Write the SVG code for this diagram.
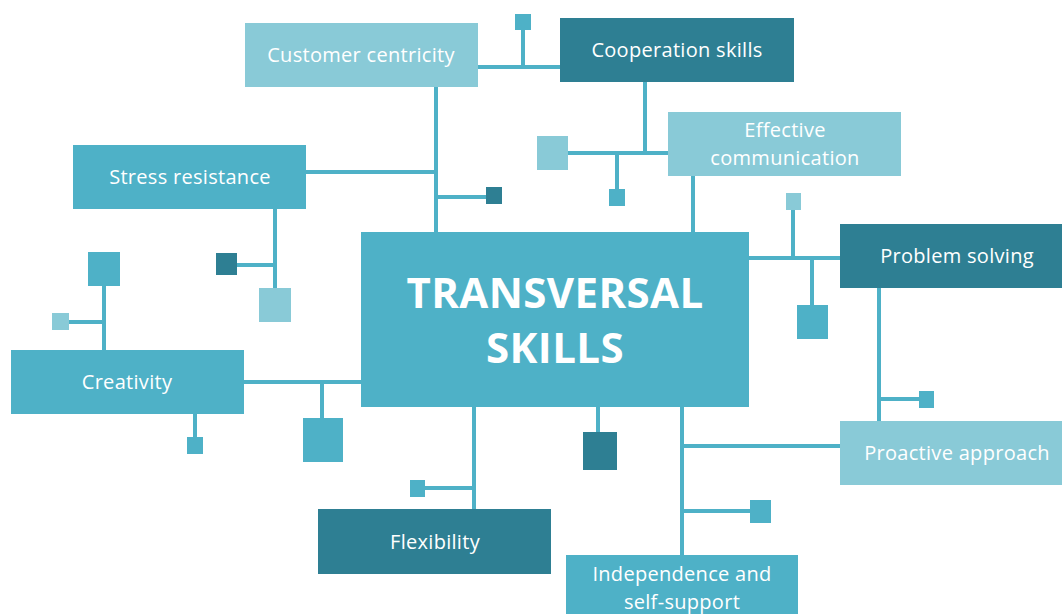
<svg xmlns="http://www.w3.org/2000/svg" width="1062" height="614" viewBox="0 0 1062 614">
<style>
.mid{fill:#4EB1C7}
.light{fill:#89CAD7}
.dark{fill:#2E7F93}
.ln{stroke:#4EB1C7;stroke-width:4;fill:none}
.t{font-family:"Open Sans","Liberation Sans",sans-serif;font-size:20px;letter-spacing:0.3px;fill:#fff;text-anchor:middle}
.title{font-family:"Open Sans","Liberation Sans",sans-serif;font-weight:700;font-size:42px;fill:#fff;text-anchor:middle;letter-spacing:0.4px}
</style>
<rect width="1062" height="614" fill="#fff"/>
<g id="connectors">
<path class="ln" d="M478 67H560 M523 30V67"/>
<path class="ln" d="M645 82V153 M568 153H668 M617 153V190"/>
<path class="ln" d="M693 176V232"/>
<path class="ln" d="M436 87V232 M306 172H436 M436 197H487"/>
<path class="ln" d="M275 209V289 M237 265H275"/>
<path class="ln" d="M104 350V285 M69 322H104"/>
<path class="ln" d="M195 414V438"/>
<path class="ln" d="M244 382H361 M322 382V419"/>
<path class="ln" d="M474 407V509 M425 488H474"/>
<path class="ln" d="M598 407V433"/>
<path class="ln" d="M682 407V555 M682 446H840 M682 511H751"/>
<path class="ln" d="M879 288V421 M879 399H920"/>
<path class="ln" d="M749 258H840 M793 258V209 M812 258V306"/>
</g>
<g id="squares">
<rect class="mid" x="515" y="14" width="16" height="16"/>
<rect class="light" x="537" y="136" width="31" height="34"/>
<rect class="mid" x="609" y="189" width="16" height="17"/>
<rect class="dark" x="486" y="187" width="16" height="17"/>
<rect class="light" x="259" y="288" width="32" height="34"/>
<rect class="dark" x="216" y="253" width="21" height="22"/>
<rect class="mid" x="88" y="252" width="32" height="34"/>
<rect class="light" x="52" y="313" width="17" height="17"/>
<rect class="mid" x="187" y="437" width="16" height="17"/>
<rect class="mid" x="303" y="418" width="40" height="44"/>
<rect class="mid" x="410" y="480" width="15" height="17"/>
<rect class="dark" x="583" y="432" width="34" height="38"/>
<rect class="mid" x="750" y="500" width="21" height="23"/>
<rect class="mid" x="919" y="391" width="15" height="17"/>
<rect class="light" x="786" y="193" width="15" height="17"/>
<rect class="mid" x="797" y="305" width="31" height="34"/>
</g>
<g id="center">
<rect class="mid" x="361" y="232" width="388" height="175"/>
<text class="title" x="555" y="308">TRANSVERSAL</text>
<text class="title" x="555" y="363">SKILLS</text>
</g>
<g id="customer-centricity">
<rect class="light" x="245" y="23" width="233" height="64"/>
<text class="t" x="361" y="62">Customer centricity</text>
</g>
<g id="cooperation-skills">
<rect class="dark" x="560" y="18" width="234" height="64"/>
<text class="t" x="677" y="57">Cooperation skills</text>
</g>
<g id="effective-communication">
<rect class="light" x="668" y="112" width="233" height="64"/>
<text class="t" x="785" y="137">Effective</text>
<text class="t" x="785" y="165">communication</text>
</g>
<g id="stress-resistance">
<rect class="mid" x="73" y="145" width="233" height="64"/>
<text class="t" x="190" y="184">Stress resistance</text>
</g>
<g id="creativity">
<rect class="mid" x="11" y="350" width="233" height="64"/>
<text class="t" x="127" y="389">Creativity</text>
</g>
<g id="problem-solving">
<rect class="dark" x="840" y="224" width="222" height="64"/>
<text class="t" x="957" y="263">Problem solving</text>
</g>
<g id="proactive-approach">
<rect class="light" x="840" y="421" width="222" height="64"/>
<text class="t" x="957" y="460">Proactive approach</text>
</g>
<g id="flexibility">
<rect class="dark" x="318" y="509" width="233" height="65"/>
<text class="t" x="435" y="549">Flexibility</text>
</g>
<g id="independence">
<rect class="mid" x="566" y="555" width="232" height="59"/>
<text class="t" x="682" y="581">Independence and</text>
<text class="t" x="682" y="609">self-support</text>
</g>
</svg>
